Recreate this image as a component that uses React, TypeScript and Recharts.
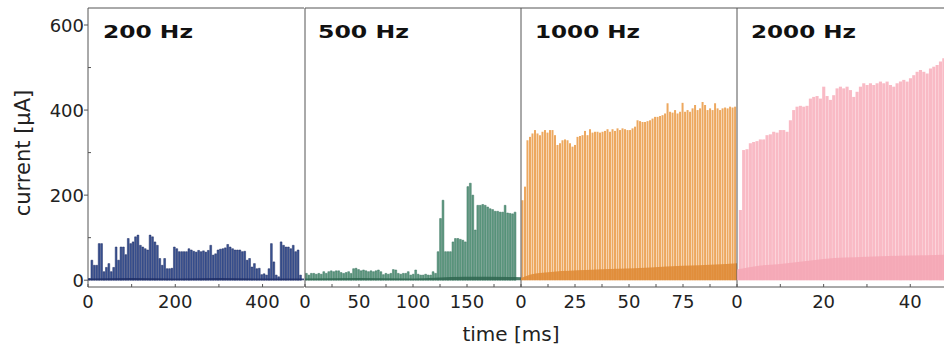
import React from 'react';
import { ComposedChart, Bar, Area, XAxis, YAxis, ReferenceLine } from 'recharts';

// peak current of each stimulation pulse [µA], read left to right per panel
const BLUE_PEAKS = [
  4, 47, 35, 35, 86, 86, 20, 30, 39, 20, 30, 78, 47, 78, 78, 60, 98, 86, 90, 102, 106, 82,
  78, 74, 71, 106, 102, 90, 82, 51, 35, 51, 27, 27, 28, 78, 74, 67, 67, 67, 67, 74, 71,
  68, 66, 70, 67, 69, 66, 70, 82, 59, 62, 71, 73, 74, 76, 84, 78, 74, 71, 71, 71, 67, 68,
  47, 51, 31, 39, 27, 28, 13, 15, 12, 27, 86, 43, 12, 8, 90, 82, 78, 78, 74, 82, 67, 71, 12,
];
const GREEN_PEAKS = [
  16, 12, 16, 16, 14, 16, 14, 20, 16, 20, 22, 20, 22, 22, 18, 16, 18, 20, 16, 27, 28, 25,
  22, 24, 22, 20, 22, 20, 22, 24, 20, 13, 16, 14, 16, 25, 24, 16, 14, 16, 16, 20,
  12, 14, 24, 14, 12, 12, 14, 12, 12, 20, 16,
  67, 145, 188, 67, 67, 67, 90, 98, 98, 96, 94, 90, 220, 228,
  200, 118, 176, 176, 178, 176, 172, 168, 166, 162, 162, 160, 160, 176, 158, 157, 156, 160,
];
const ORANGE_PEAKS = [
  188, 220, 329, 337, 345, 353, 345, 341, 349, 353, 347, 353, 353, 341, 318, 322, 329, 331,
  329, 322, 314, 318, 337, 339, 341, 351, 341, 355, 347, 349, 349, 347, 349, 351, 355, 349,
  355, 351, 357, 353, 357, 355,
  353, 353, 357, 361, 376, 374, 372, 372, 374, 376, 380, 384, 384, 386, 388, 392, 416, 396,
  394, 400, 392, 396, 417, 396, 400, 396, 404, 412, 400, 404, 419, 412, 400, 404, 400, 416,
  404, 400, 404, 406, 404, 408, 406, 408,
];
const PINK_PEAKS = [
  165, 306, 308, 322, 325, 327, 331, 331, 341, 343, 349, 347, 353, 353, 349, 376, 400, 408,
  410, 408, 410, 427, 431, 433, 427, 455, 433, 424, 435, 451, 455, 451, 455, 447, 431, 443,
  455, 463, 459, 463, 459, 463, 467, 463, 467, 459, 455, 463, 467, 471, 467, 475, 482, 490,
  494, 490, 486, 498, 502, 506, 514, 522,
];

// first pulse time and pulse spacing [ms]
const BLUE_START = 4;
const BLUE_PERIOD = 5.56;
const GREEN_START = 1.6;
const GREEN_PERIOD = 2.3;
const ORANGE_START = 0.8;
const ORANGE_PERIOD = 1.158;
const PINK_START = 0.8;
const PINK_PERIOD = 0.77;

// inter-pulse baseline level [µA]
const BLUE_BAND_T = [0, 100, 200, 300, 400, 495];
const BLUE_BAND = [4, 5, 4, 5, 4, 4];
const GREEN_BAND_T = [0, 50, 100, 120, 150, 200];
const GREEN_BAND = [4, 5, 4, 6, 8, 7];
const ORANGE_BAND_T = [0, 5, 15, 30, 45, 60, 75, 90, 100];
const ORANGE_BAND = [5, 14, 20, 24, 27, 30, 34, 37, 40];
const PINK_BAND_T = [0, 5, 10, 15, 20, 30, 40, 48];
const PINK_BAND = [25, 34, 38, 44, 50, 55, 58, 60];

const Y_DOMAIN: [number, number] = [-16, 640];
const Y_TICKS = [0, 100, 200, 300, 400, 500, 600];
const Y_LABELS = [0, 200, 400, 600];

const FONT = '"DejaVu Sans", sans-serif';
const AXIS = '#555';
const PLOT_TOP = 8;
const CHART_H = 349;
const PAD = 14;

const pulses = (peaks: number[], start: number, period: number) =>
  peaks.map((peak, i) => ({ t: start + i * period, peak }));
const band = (ts: number[], vals: number[]) => ts.map((t, i) => ({ t, base: vals[i] }));

function XTick(props: any) {
  const { x, y, payload, labels } = props;
  const isMajor = labels.includes(payload.value);
  return (
    <g>
      <line x1={x} x2={x} y1={y} y2={y - 3} stroke={AXIS} />
      {isMajor && (
        <text x={x} y={y + 21} textAnchor="middle" fontFamily={FONT} fontSize={18} fill="#222">
          {payload.value}
        </text>
      )}
    </g>
  );
}

function YTick(props: any) {
  const { x, y, payload } = props;
  const isMajor = Y_LABELS.includes(payload.value);
  if (!isMajor) return <line x1={x} x2={x + 3} y1={y} y2={y} stroke={AXIS} />;
  return (
    <g>
      <line x1={x - 4} x2={x} y1={y} y2={y} stroke={AXIS} />
      <text x={x - 4} y={y + 6.5} textAnchor="end" fontFamily={FONT} fontSize={18} fill="#222">
        {payload.value}
      </text>
    </g>
  );
}

type PanelProps = {
  plotLeft: number;
  plotWidth: number;
  withYAxis?: boolean;
  domain: [number, number];
  ticks: number[];
  labels: number[];
  data: { t: number; peak: number }[];
  bandData: { t: number; base: number }[];
  fill: string;
  stroke?: string;
  bandFill: string;
  barSize: number;
};

function Panel(p: PanelProps) {
  const leftSpace = p.withYAxis ? p.plotLeft : PAD;
  const width = leftSpace + p.plotWidth + PAD;
  return (
    <div style={{ position: 'absolute', left: p.plotLeft - leftSpace, top: 0 }}>
      <ComposedChart
        width={width}
        height={CHART_H}
        data={p.data}
        margin={{ top: PLOT_TOP, right: PAD, bottom: 22, left: p.withYAxis ? 0 : PAD }}
      >
        <XAxis
          dataKey="t"
          type="number"
          domain={p.domain}
          ticks={p.ticks}
          interval={0}
          allowDataOverflow
          height={40}
          tickSize={0}
          tickMargin={0}
          tickLine={false}
          axisLine={{ stroke: AXIS }}
          tick={(tp: any) => <XTick {...tp} labels={p.labels} />}
        />
        {/* separate hidden axis so the baseline band does not shrink the bar width */}
        <XAxis xAxisId="band" hide dataKey="t" type="number" domain={p.domain} allowDataOverflow />
        <YAxis
          hide={!p.withYAxis}
          type="number"
          domain={Y_DOMAIN}
          ticks={Y_TICKS}
          interval={0}
          width={p.withYAxis ? p.plotLeft : 0}
          tickSize={0}
          tickMargin={0}
          tickLine={false}
          axisLine={{ stroke: AXIS }}
          tick={(tp: any) => <YTick {...tp} />}
        />
        <ReferenceLine y={640} stroke={AXIS} />
        {!p.withYAxis && <ReferenceLine x={0} stroke={AXIS} />}
        <Bar
          dataKey="peak"
          fill={p.fill}
          stroke={p.stroke}
          strokeWidth={p.stroke ? 0.5 : 0}
          barSize={p.barSize}
          isAnimationActive={false}
        />
        <Area
          xAxisId="band"
          data={p.bandData}
          dataKey="base"
          type="monotone"
          stroke="none"
          fill={p.bandFill}
          fillOpacity={0.85}
          zIndex={500}
          isAnimationActive={false}
        />
      </ComposedChart>
    </div>
  );
}

export default function App() {
  return (
    <div
      style={{
        position: 'absolute',
        left: 0,
        top: 0,
        width: 944,
        height: 349,
        overflow: 'hidden',
        background: '#fff',
      }}
    >
      <Panel
        withYAxis
        plotLeft={88}
        plotWidth={216}
        domain={[0, 495]}
        ticks={[0, 100, 200, 300, 400]}
        labels={[0, 200, 400]}
        data={pulses(BLUE_PEAKS, BLUE_START, BLUE_PERIOD)}
        bandData={band(BLUE_BAND_T, BLUE_BAND)}
        fill="#3c5594"
        stroke="#1c2b63"
        bandFill="#1f2e66"
        barSize={1.8}
      />
      <Panel
        plotLeft={304.5}
        plotWidth={216}
        domain={[0, 200]}
        ticks={[0, 25, 50, 75, 100, 125, 150, 175]}
        labels={[0, 50, 100, 150]}
        data={pulses(GREEN_PEAKS, GREEN_START, GREEN_PERIOD)}
        bandData={band(GREEN_BAND_T, GREEN_BAND)}
        fill="#5f9a80"
        stroke="#3a7560"
        bandFill="#2f6650"
        barSize={1.8}
      />
      <Panel
        plotLeft={520.5}
        plotWidth={216}
        domain={[0, 100]}
        ticks={[0, 12.5, 25, 37.5, 50, 62.5, 75, 87.5]}
        labels={[0, 25, 50, 75]}
        data={pulses(ORANGE_PEAKS, ORANGE_START, ORANGE_PERIOD)}
        bandData={band(ORANGE_BAND_T, ORANGE_BAND)}
        fill="#eda85f"
        bandFill="#de8a35"
        barSize={2}
      />
      <Panel
        plotLeft={736.5}
        plotWidth={207.5}
        domain={[0, 47.9]}
        ticks={[0, 10, 20, 30, 40]}
        labels={[0, 20, 40]}
        data={pulses(PINK_PEAKS, PINK_START, PINK_PERIOD)}
        bandData={band(PINK_BAND_T, PINK_BAND)}
        fill="#f9bac5"
        bandFill="#f4a6b4"
        barSize={3.1}
      />
      <svg
        width={944}
        height={349}
        style={{ position: 'absolute', left: 0, top: 0, pointerEvents: 'none' }}
      >
        <g fontFamily={FONT} fontWeight="bold" fontSize={18} fill="#111">
          <text x={103} y={38} textLength={90} lengthAdjust="spacingAndGlyphs">200 Hz</text>
          <text x={318} y={38} textLength={91} lengthAdjust="spacingAndGlyphs">500 Hz</text>
          <text x={535} y={38} textLength={105} lengthAdjust="spacingAndGlyphs">1000 Hz</text>
          <text x={751} y={38} textLength={105} lengthAdjust="spacingAndGlyphs">2000 Hz</text>
        </g>
        <text
          x={30}
          y={153}
          transform="rotate(-90 30 153)"
          textAnchor="middle"
          fontFamily={FONT}
          fontSize={21}
          fill="#222"
        >
          current [µA]
        </text>
        <text x={511} y={341} textAnchor="middle" fontFamily={FONT} fontSize={20} fill="#222">
          time [ms]
        </text>
      </svg>
    </div>
  );
}
